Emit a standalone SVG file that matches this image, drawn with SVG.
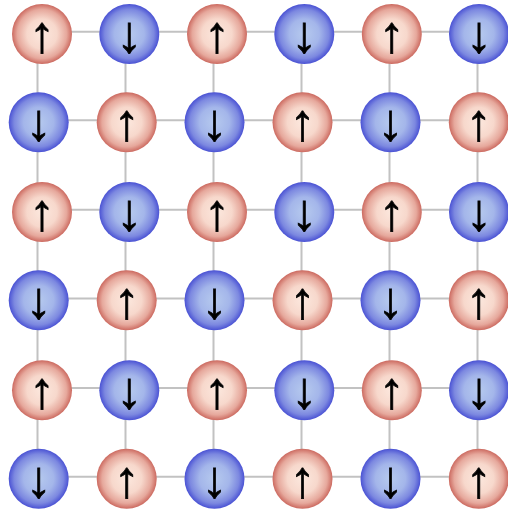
<svg xmlns="http://www.w3.org/2000/svg" width="508" height="509" viewBox="0 0 508 509">
<style>
.ln{stroke:#c2c2c2;stroke-width:2;fill:none}
.up circle{fill:url(#gr)}
.dn circle{fill:url(#gb)}
text{font-family:"Liberation Sans",Arial,sans-serif;font-size:52px;fill:#000;stroke:#000;stroke-width:0.7;text-anchor:middle}
</style>
<defs>
<radialGradient id="gr" cx="50%" cy="50%" r="50%">
<stop offset="0" stop-color="#fce8de"/>
<stop offset="0.5" stop-color="#f7d8cc"/>
<stop offset="0.82" stop-color="#e6a89c"/>
<stop offset="1" stop-color="#cc6a60"/>
</radialGradient>
<radialGradient id="gb" cx="50%" cy="50%" r="50%">
<stop offset="0" stop-color="#b6caee"/>
<stop offset="0.5" stop-color="#a4b6ea"/>
<stop offset="0.82" stop-color="#7c88e0"/>
<stop offset="1" stop-color="#4a52d4"/>
</radialGradient>
</defs>
<g id="connectors">
<line class="ln" x1="37.5" y1="31.7" x2="477.5" y2="31.7"/>
<line class="ln" x1="37.5" y1="120.2" x2="477.5" y2="120.2"/>
<line class="ln" x1="37.5" y1="209.7" x2="477.5" y2="209.7"/>
<line class="ln" x1="37.5" y1="298.5" x2="477.5" y2="298.5"/>
<line class="ln" x1="37.5" y1="387.9" x2="477.5" y2="387.9"/>
<line class="ln" x1="37.5" y1="476.7" x2="477.5" y2="476.7"/>
<line class="ln" x1="37.5" y1="31.7" x2="37.5" y2="476.7"/>
<line class="ln" x1="125.5" y1="31.7" x2="125.5" y2="476.7"/>
<line class="ln" x1="213.5" y1="31.7" x2="213.5" y2="476.7"/>
<line class="ln" x1="301.5" y1="31.7" x2="301.5" y2="476.7"/>
<line class="ln" x1="389.5" y1="31.7" x2="389.5" y2="476.7"/>
<line class="ln" x1="477.5" y1="31.7" x2="477.5" y2="476.7"/>
</g>
<g id="n00" class="up"><circle cx="42" cy="34" r="30"/><text x="42" y="52">↑</text></g>
<g id="n01" class="dn"><circle cx="129.3" cy="34" r="30"/><text x="129.3" y="52">↓</text></g>
<g id="n02" class="up"><circle cx="217" cy="34" r="30"/><text x="217" y="52">↑</text></g>
<g id="n03" class="dn"><circle cx="304.3" cy="34" r="30"/><text x="304.3" y="52">↓</text></g>
<g id="n04" class="up"><circle cx="391.8" cy="34" r="30"/><text x="391.8" y="52">↑</text></g>
<g id="n05" class="dn"><circle cx="479" cy="34" r="30"/><text x="479" y="52">↓</text></g>
<g id="n10" class="dn"><circle cx="38.7" cy="122.3" r="30"/><text x="38.7" y="140.3">↓</text></g>
<g id="n11" class="up"><circle cx="126.7" cy="122.3" r="30"/><text x="126.7" y="140.3">↑</text></g>
<g id="n12" class="dn"><circle cx="214.5" cy="122.3" r="30"/><text x="214.5" y="140.3">↓</text></g>
<g id="n13" class="up"><circle cx="302.5" cy="122.3" r="30"/><text x="302.5" y="140.3">↑</text></g>
<g id="n14" class="dn"><circle cx="390.5" cy="122.3" r="30"/><text x="390.5" y="140.3">↓</text></g>
<g id="n15" class="up"><circle cx="478.8" cy="122.3" r="30"/><text x="478.8" y="140.3">↑</text></g>
<g id="n20" class="up"><circle cx="42" cy="212" r="30"/><text x="42" y="230">↑</text></g>
<g id="n21" class="dn"><circle cx="129.3" cy="212" r="30"/><text x="129.3" y="230">↓</text></g>
<g id="n22" class="up"><circle cx="217" cy="212" r="30"/><text x="217" y="230">↑</text></g>
<g id="n23" class="dn"><circle cx="304.3" cy="212" r="30"/><text x="304.3" y="230">↓</text></g>
<g id="n24" class="up"><circle cx="391.8" cy="212" r="30"/><text x="391.8" y="230">↑</text></g>
<g id="n25" class="dn"><circle cx="479" cy="212" r="30"/><text x="479" y="230">↓</text></g>
<g id="n30" class="dn"><circle cx="38.7" cy="300.3" r="30"/><text x="38.7" y="318.3">↓</text></g>
<g id="n31" class="up"><circle cx="126.7" cy="300.3" r="30"/><text x="126.7" y="318.3">↑</text></g>
<g id="n32" class="dn"><circle cx="214.5" cy="300.3" r="30"/><text x="214.5" y="318.3">↓</text></g>
<g id="n33" class="up"><circle cx="302.5" cy="300.3" r="30"/><text x="302.5" y="318.3">↑</text></g>
<g id="n34" class="dn"><circle cx="390.5" cy="300.3" r="30"/><text x="390.5" y="318.3">↓</text></g>
<g id="n35" class="up"><circle cx="478.8" cy="300.3" r="30"/><text x="478.8" y="318.3">↑</text></g>
<g id="n40" class="up"><circle cx="42" cy="390.3" r="30"/><text x="42" y="408.3">↑</text></g>
<g id="n41" class="dn"><circle cx="129.3" cy="390.3" r="30"/><text x="129.3" y="408.3">↓</text></g>
<g id="n42" class="up"><circle cx="217" cy="390.3" r="30"/><text x="217" y="408.3">↑</text></g>
<g id="n43" class="dn"><circle cx="304.3" cy="390.3" r="30"/><text x="304.3" y="408.3">↓</text></g>
<g id="n44" class="up"><circle cx="391.8" cy="390.3" r="30"/><text x="391.8" y="408.3">↑</text></g>
<g id="n45" class="dn"><circle cx="479" cy="390.3" r="30"/><text x="479" y="408.3">↓</text></g>
<g id="n50" class="dn"><circle cx="38.7" cy="478.7" r="30"/><text x="38.7" y="496.7">↓</text></g>
<g id="n51" class="up"><circle cx="126.7" cy="478.7" r="30"/><text x="126.7" y="496.7">↑</text></g>
<g id="n52" class="dn"><circle cx="214.5" cy="478.7" r="30"/><text x="214.5" y="496.7">↓</text></g>
<g id="n53" class="up"><circle cx="302.5" cy="478.7" r="30"/><text x="302.5" y="496.7">↑</text></g>
<g id="n54" class="dn"><circle cx="390.5" cy="478.7" r="30"/><text x="390.5" y="496.7">↓</text></g>
<g id="n55" class="up"><circle cx="478.8" cy="478.7" r="30"/><text x="478.8" y="496.7">↑</text></g>
</svg>
